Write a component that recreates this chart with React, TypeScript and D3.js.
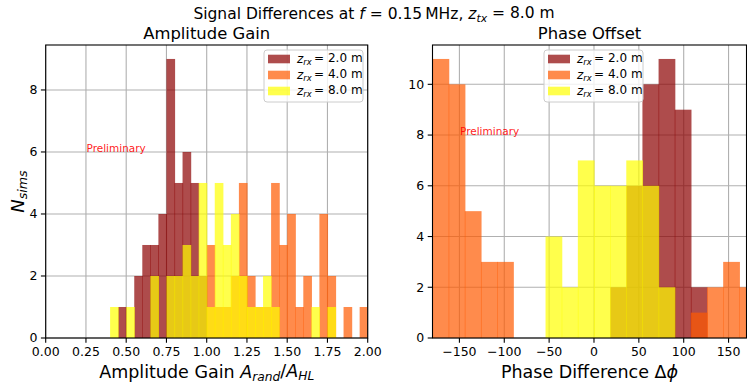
import React from 'react';
import * as d3 from 'd3';

const FONT = "'DejaVu Sans', sans-serif";

// ---------- Amplitude gain histogram (bin width 0.05) ----------
const ampBinStarts = [
  0.40, 0.45, 0.50, 0.55, 0.60, 0.65, 0.70, 0.75, 0.80, 0.85, 0.90, 0.95,
  1.00, 1.05, 1.10, 1.15, 1.20, 1.25, 1.30, 1.35, 1.40, 1.45, 1.50, 1.55,
  1.60, 1.65, 1.70, 1.75, 1.80, 1.85, 1.90, 1.95,
];
const AMP_BIN_W = 0.05;
const ampRed = [0, 1, 0, 2, 3, 3, 4, 9, 5, 6, 5, 2, 0, 0, 0, 0, 0, 0, 0, 0, 0, 0, 0, 0, 0, 0, 0, 0, 0, 0, 0, 0];
const ampOrange = [0, 0, 0, 0, 0, 0, 0, 0, 0, 0, 0, 0, 3, 1, 1, 2, 5, 2, 1, 1, 5, 3, 4, 1, 2, 0, 4, 2, 0, 1, 0, 1];
const ampYellow = [1, 0, 1, 0, 0, 2, 0, 2, 2, 3, 2, 5, 1, 5, 3, 4, 2, 1, 1, 2, 1, 0, 0, 0, 0, 1, 0, 1, 0, 0, 0, 0];
const ampXTicks = [0, 0.25, 0.5, 0.75, 1.0, 1.25, 1.5, 1.75, 2.0];
const ampYTicks = [0, 2, 4, 6, 8];

// ---------- Phase difference histogram (bin width 18 deg) ----------
const phaseBinStarts = [
  -180, -162, -144, -126, -108, -90, -72, -54, -36, -18,
  0, 18, 36, 54, 72, 90, 108, 126, 144, 162,
];
const PHASE_BIN_W = 18;
const phaseRed = [0, 0, 0, 0, 0, 0, 0, 0, 0, 0, 0, 2, 6, 10, 11, 9, 2, 0, 0, 0];
const phaseOrange = [11, 10, 5, 3, 3, 0, 0, 0, 0, 0, 0, 0, 0, 0, 0, 0, 1, 2, 3, 2];
const phaseYellow = [0, 0, 0, 0, 0, 0, 0, 4, 2, 7, 6, 6, 7, 6, 2, 0, 0, 0, 0, 0];
const phaseXTicks = [-150, -100, -50, 0, 50, 100, 150];
const phaseYTicks = [0, 2, 4, 6, 8, 10];

const seriesLabels = ['2.0 m', '4.0 m', '8.0 m'];
const seriesColors = ['#8b0000', '#ff5a00', '#ffff00'];
const ALPHA = 0.7;

type PanelProps = {
  left: number; right: number; top: number; bottom: number;
  xDomain: [number, number]; yDomain: [number, number];
  xTicks: number[]; yTicks: number[]; xFmt: (v: number) => string;
  binStarts: number[]; binW: number; series: number[][];
  title: string; xlabel: React.ReactNode;
  legendX: number; legendY: number; prelimX: number; prelimY: number;
};

function SubZ({ sub }: { sub: string }) {
  return (
    <>
      <tspan fontStyle="italic">z</tspan>
      <tspan fontStyle="italic" fontSize="0.7em" dy="0.25em">{sub}</tspan>
      <tspan dy="-0.25em">{'\u2009= '}</tspan>
    </>
  );
}

function Panel(p: PanelProps) {
  const x = d3.scaleLinear().domain(p.xDomain).range([p.left, p.right]);
  const y = d3.scaleLinear().domain(p.yDomain).range([p.bottom, p.top]);
  const tickLen = 4.8;
  const clipId = `clip-${p.title.replace(/\s/g, '')}`;
  return (
    <g>
      <defs>
        <clipPath id={clipId}>
          <rect x={p.left} y={p.top} width={p.right - p.left} height={p.bottom - p.top} />
        </clipPath>
      </defs>
      {/* grid */}
      {p.xTicks.map((t) => (
        <line key={`gx${t}`} x1={x(t)} x2={x(t)} y1={p.top} y2={p.bottom} stroke="#b0b0b0" strokeWidth={1.1} />
      ))}
      {p.yTicks.map((t) => (
        <line key={`gy${t}`} x1={p.left} x2={p.right} y1={y(t)} y2={y(t)} stroke="#b0b0b0" strokeWidth={1.1} />
      ))}
      {/* bars */}
      <g clipPath={`url(#${clipId})`}>
        {p.series.map((counts, si) => (
          <g key={si}>
            {counts.map((c, i) =>
              c > 0 ? (
                <rect
                  key={i}
                  x={x(p.binStarts[i])}
                  width={x(p.binStarts[i] + p.binW) - x(p.binStarts[i]) + 0.6}
                  y={y(c)}
                  height={y(0) - y(c)}
                  fill={seriesColors[si]}
                  fillOpacity={ALPHA}
                />
              ) : null,
            )}
          </g>
        ))}
      </g>
      {/* spines */}
      <rect x={p.left} y={p.top} width={p.right - p.left} height={p.bottom - p.top} fill="none" stroke="#000" strokeWidth={1.1} />
      {/* x ticks */}
      {p.xTicks.map((t) => (
        <g key={`xt${t}`}>
          <line x1={x(t)} x2={x(t)} y1={p.bottom} y2={p.bottom + tickLen} stroke="#000" strokeWidth={1.1} />
          <text x={x(t)} y={p.bottom + tickLen + 13} textAnchor="middle" fontSize={12.5} fontFamily={FONT} fill="#000">
            {p.xFmt(t)}
          </text>
        </g>
      ))}
      {/* y ticks */}
      {p.yTicks.map((t) => (
        <g key={`yt${t}`}>
          <line x1={p.left - tickLen} x2={p.left} y1={y(t)} y2={y(t)} stroke="#000" strokeWidth={1.1} />
          <text x={p.left - tickLen - 3.5} y={y(t)} dy="0.35em" textAnchor="end" fontSize={12.5} fontFamily={FONT} fill="#000">
            {t}
          </text>
        </g>
      ))}
      {/* title */}
      <text x={(p.left + p.right) / 2} y={p.top - 6} textAnchor="middle" fontSize={16.4} fontFamily={FONT} fill="#000">
        {p.title}
      </text>
      {/* x label */}
      <text x={(p.left + p.right) / 2} y={p.bottom + 40} textAnchor="middle" fontSize={17.5} fontFamily={FONT} fill="#000">
        {p.xlabel}
      </text>
      {/* preliminary */}
      <text x={p.prelimX} y={p.prelimY} dy="0.35em" fontSize={10.5} fontFamily={FONT} fill="#ff0000" fillOpacity={0.9}>
        Preliminary
      </text>
      {/* legend */}
      <g transform={`translate(${p.legendX},${p.legendY})`}>
        <rect x={0} y={0} width={99} height={52} rx={3} fill="#fff" fillOpacity={0.8} stroke="#cccccc" strokeWidth={1} />
        {seriesLabels.map((lab, i) => (
          <g key={lab} transform={`translate(0,${9 + i * 16})`}>
            <rect x={4} y={-4.3} width={22} height={8.6} fill={seriesColors[i]} fillOpacity={ALPHA} />
            <text x={33} y={0} dy="0.35em" fontSize={12} fontFamily={FONT} fill="#000">
              <SubZ sub="rx" />
              {' ' + lab}
            </text>
          </g>
        ))}
      </g>
    </g>
  );
}

export default function App() {
  const W = 747;
  const H = 383;
  const top = 45;
  const bottom = 338;
  return (
    <svg width={W} height={H} style={{ display: 'block', position: 'absolute', left: 0, top: 0 }} xmlns="http://www.w3.org/2000/svg">
      <rect x={0} y={0} width={W} height={H} fill="#fff" />
      <text x={374} y={19} textAnchor="middle" fontSize={15.5} fontFamily={FONT} fill="#000">
        Signal Differences at <tspan fontStyle="italic">f</tspan>{' = 0.15\u2009MHz, '}
        <tspan fontStyle="italic">z</tspan>
        <tspan fontStyle="italic" fontSize="0.7em" dy="0.25em">tx</tspan>
        <tspan dy="-0.25em">{' = 8.0 m'}</tspan>
      </text>
      <text transform={`translate(24,${(top + bottom) / 2}) rotate(-90)`} textAnchor="middle" fontSize={18} fontFamily={FONT} fill="#000">
        <tspan fontStyle="italic">N</tspan>
        <tspan fontStyle="italic" fontSize="0.7em" dy="0.25em">sims</tspan>
      </text>
      <Panel
        left={45.7} right={367.7} top={top} bottom={bottom}
        xDomain={[0, 2]} yDomain={[0, 9.45]}
        xTicks={ampXTicks} yTicks={ampYTicks} xFmt={d3.format('.2f')}
        binStarts={ampBinStarts} binW={AMP_BIN_W} series={[ampRed, ampOrange, ampYellow]}
        title="Amplitude Gain"
        xlabel={
          <>
            {'Amplitude Gain '}
            <tspan fontStyle="italic">A</tspan>
            <tspan fontStyle="italic" fontSize="0.7em" dy="0.25em">rand</tspan>
            <tspan dy="-0.25em">/</tspan>
            <tspan fontStyle="italic">A</tspan>
            <tspan fontStyle="italic" fontSize="0.7em" dy="0.25em">HL</tspan>
          </>
        }
        legendX={264} legendY={50} prelimX={86.5} prelimY={148}
      />
      <Panel
        left={432.5} right={746.5} top={top} bottom={bottom}
        xDomain={[-180, 170]} yDomain={[0, 11.55]}
        xTicks={phaseXTicks} yTicks={phaseYTicks} xFmt={d3.format('d')}
        binStarts={phaseBinStarts} binW={PHASE_BIN_W} series={[phaseRed, phaseOrange, phaseYellow]}
        title="Phase Offset"
        xlabel={
          <>
            {'Phase Difference \u0394'}
            <tspan fontStyle="italic">{'\u03d5'}</tspan>
          </>
        }
        legendX={544} legendY={50} prelimX={460} prelimY={131.5}
      />
    </svg>
  );
}
